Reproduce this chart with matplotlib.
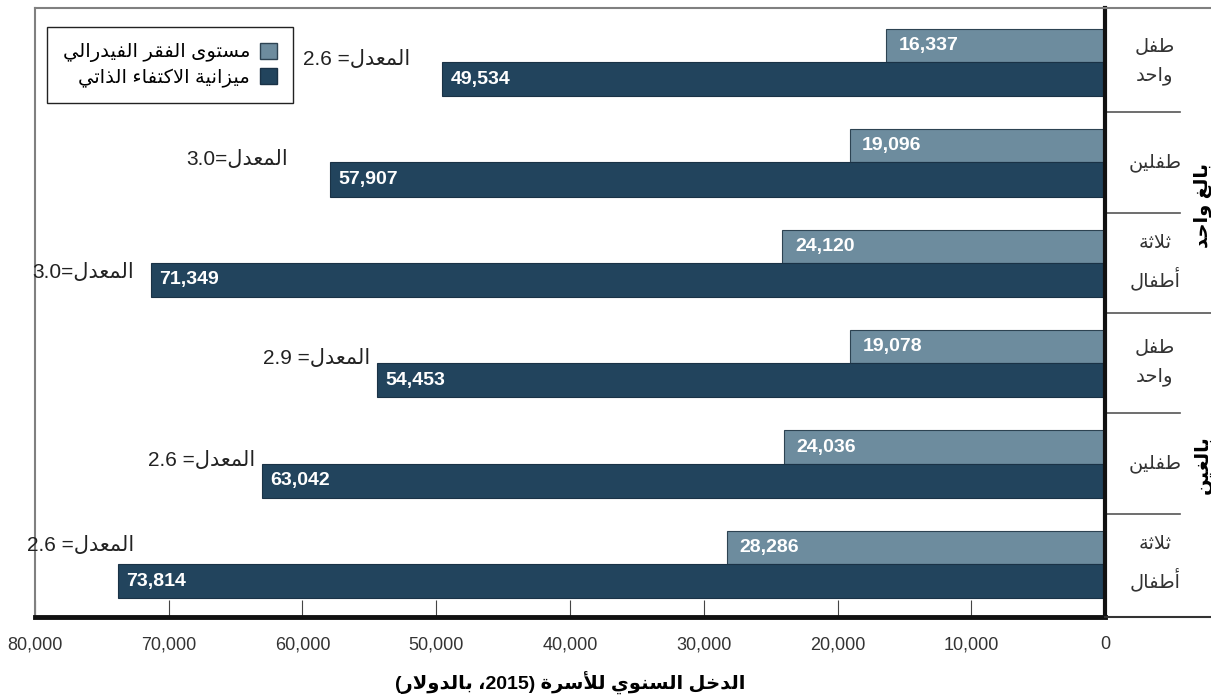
import re
import matplotlib
matplotlib.use("Agg")
import matplotlib.pyplot as plt
from matplotlib.patches import Patch
from matplotlib.lines import Line2D

# data
categories = ["طفل\nواحد", "طفلين", "ثلاثة\nأطفال", "طفل\nواحد", "طفلين", "ثلاثة\nأطفال"]
groups = ["بالغ واحد", "بالغين"]
poverty = [16337, 19096, 24120, 19078, 24036, 28286]
budget = [49534, 57907, 71349, 54453, 63042, 73814]
ratio_text = ["المعدل= 2.6", "المعدل=3.0", "المعدل=3.0", "المعدل= 2.9", "المعدل= 2.6", "المعدل= 2.6"]
series = ["مستوى الفقر الفيدرالي", "ميزانية الاكتفاء الذاتي"]
xlabel = "الدخل السنوي للأسرة (2015، بالدولار)"
xticks = [0, 10000, 20000, 30000, 40000, 50000, 60000, 70000, 80000]

# minimal arabic shaping (presentation forms) + rtl ordering
FORMS = {
    'ء': (0xFE80, None, None, None), 'آ': (0xFE81, 0xFE82, None, None),
    'أ': (0xFE83, 0xFE84, None, None), 'ؤ': (0xFE85, 0xFE86, None, None),
    'إ': (0xFE87, 0xFE88, None, None), 'ئ': (0xFE89, 0xFE8A, 0xFE8B, 0xFE8C),
    'ا': (0xFE8D, 0xFE8E, None, None), 'ب': (0xFE8F, 0xFE90, 0xFE91, 0xFE92),
    'ة': (0xFE93, 0xFE94, None, None), 'ت': (0xFE95, 0xFE96, 0xFE97, 0xFE98),
    'ث': (0xFE99, 0xFE9A, 0xFE9B, 0xFE9C), 'ج': (0xFE9D, 0xFE9E, 0xFE9F, 0xFEA0),
    'ح': (0xFEA1, 0xFEA2, 0xFEA3, 0xFEA4), 'خ': (0xFEA5, 0xFEA6, 0xFEA7, 0xFEA8),
    'د': (0xFEA9, 0xFEAA, None, None), 'ذ': (0xFEAB, 0xFEAC, None, None),
    'ر': (0xFEAD, 0xFEAE, None, None), 'ز': (0xFEAF, 0xFEB0, None, None),
    'س': (0xFEB1, 0xFEB2, 0xFEB3, 0xFEB4), 'ش': (0xFEB5, 0xFEB6, 0xFEB7, 0xFEB8),
    'ص': (0xFEB9, 0xFEBA, 0xFEBB, 0xFEBC), 'ض': (0xFEBD, 0xFEBE, 0xFEBF, 0xFEC0),
    'ط': (0xFEC1, 0xFEC2, 0xFEC3, 0xFEC4), 'ظ': (0xFEC5, 0xFEC6, 0xFEC7, 0xFEC8),
    'ع': (0xFEC9, 0xFECA, 0xFECB, 0xFECC), 'غ': (0xFECD, 0xFECE, 0xFECF, 0xFED0),
    'ف': (0xFED1, 0xFED2, 0xFED3, 0xFED4), 'ق': (0xFED5, 0xFED6, 0xFED7, 0xFED8),
    'ك': (0xFED9, 0xFEDA, 0xFEDB, 0xFEDC), 'ل': (0xFEDD, 0xFEDE, 0xFEDF, 0xFEE0),
    'م': (0xFEE1, 0xFEE2, 0xFEE3, 0xFEE4), 'ن': (0xFEE5, 0xFEE6, 0xFEE7, 0xFEE8),
    'ه': (0xFEE9, 0xFEEA, 0xFEEB, 0xFEEC), 'و': (0xFEED, 0xFEEE, None, None),
    'ى': (0xFEEF, 0xFEF0, None, None), 'ي': (0xFEF1, 0xFEF2, 0xFEF3, 0xFEF4),
}
LAMALEF = {'آ': (0xFEF5, 0xFEF6), 'أ': (0xFEF7, 0xFEF8), 'إ': (0xFEF9, 0xFEFA), 'ا': (0xFEFB, 0xFEFC)}


def shape(s):
    out = []
    last_join = False
    i = 0
    while i < len(s):
        c = s[i]
        if c not in FORMS:
            out.append(c)
            last_join = False
            i += 1
            continue
        if c == 'ل' and i + 1 < len(s) and s[i + 1] in LAMALEF:
            lig = LAMALEF[s[i + 1]]
            out.append(chr(lig[1] if last_join else lig[0]))
            last_join = False
            i += 2
            continue
        f = FORMS[c]
        dual = f[2] is not None
        nxt = s[i + 1] if i + 1 < len(s) else None
        next_ok = dual and nxt in FORMS and nxt != 'ء'
        if last_join and next_ok:
            g = f[3]
        elif last_join:
            g = f[1]
        elif next_ok:
            g = f[2]
        else:
            g = f[0]
        out.append(chr(g))
        last_join = dual
        i += 1
    return "".join(out)


def rtl(text):
    lines = []
    for line in text.split("\n"):
        toks = re.findall(r"[0-9A-Za-z.,]+|.", shape(line))
        toks = [{"(": ")", ")": "("}.get(t, t) for t in toks[::-1]]
        lines.append("".join(toks))
    return "\n".join(lines)


AR = ["Liberation Sans", "DejaVu Sans"]
NARROW = ["Liberation Sans Narrow", "Liberation Sans", "DejaVu Sans"]
light = "#6d8c9e"
dark = "#22445d"

fig = plt.figure(figsize=(12.11, 7.0), dpi=100)
ax = fig.add_axes([35 / 1211, 1 - 617 / 700, 1070 / 1211, 609 / 700])

pos = list(range(len(categories)))
ax.barh([p - 0.165 for p in pos], poverty, height=0.33, color=light,
        edgecolor="#2d4352", linewidth=0.8, zorder=2)
ax.barh([p + 0.17 for p in pos], budget, height=0.34, color=dark,
        edgecolor="#1a3246", linewidth=0.8, zorder=2)

for p, v in zip(pos, poverty):
    ax.annotate(f"{v:,}", (v, p - 0.165), xytext=(9, 0), textcoords="offset points",
                ha="left", va="center", color="white", fontsize=14,
                fontweight="bold", family=NARROW, zorder=3)
for p, v in zip(pos, budget):
    ax.annotate(f"{v:,}", (v, p + 0.17), xytext=(6, 0), textcoords="offset points",
                ha="left", va="center", color="white", fontsize=14,
                fontweight="bold", family=NARROW, zorder=3)

# ratio labels, offsets in pixels (right end from bar start, up from centre)
dx = [32, 42, 17, 6, 7, -17]
dy = [3, 3, -10, 5, 3, 18]
for p, v, t, ox, oy in zip(pos, budget, ratio_text, dx, dy):
    ax.annotate(rtl(t), (v, p), xytext=(-ox * 0.72, oy * 0.72), textcoords="offset points",
                ha="right", va="center", fontsize=15, family=AR, color="#222222")

ax.set_xlim(80000, 0)
ax.set_ylim(5.528, -0.538)
ax.set_yticks([])
ax.set_xticks(xticks)
ax.set_xticklabels([f"{t:,}" for t in xticks], family=NARROW, fontsize=13, color="#333333")
ax.tick_params(axis="x", direction="in", length=12, width=0.8, pad=14, color="#444444")
ax.set_xlabel(rtl(xlabel), fontsize=14, fontweight="bold", family=AR, labelpad=13)

for s in ["left", "top"]:
    ax.spines[s].set_color("#808080")
    ax.spines[s].set_linewidth(1.5)
ax.spines["right"].set_color("#111111")
ax.spines["right"].set_linewidth(3)
ax.spines["bottom"].set_color("#111111")
ax.spines["bottom"].set_linewidth(3.5)

# right side table lines
tr = ax.get_yaxis_transform()
for y, x1 in [(0.5, 1.07), (1.5, 1.07), (2.5, 1.11), (3.5, 1.07), (4.5, 1.07)]:
    ax.plot([1.0, x1], [y, y], transform=tr, color="#555555", lw=1.2, clip_on=False)
fig.add_artist(Line2D([1105 / 1211, 1], [1 - 617 / 700] * 2, color="#333333", lw=1.5))
fig.add_artist(Line2D([1105 / 1211, 1], [1 - 8 / 700] * 2, color="#808080", lw=1.5))

for p, c in zip(pos, categories):
    ax.text(1.0467, p, rtl(c), transform=tr, ha="center", va="center", fontsize=14,
            family=AR, linespacing=1.75, color="#333333")

for y, g in zip([205, 465], groups):
    fig.text(1203 / 1211, 1 - y / 700, rtl(g), rotation=90, ha="center", va="center",
             fontsize=14, fontweight="bold", family=AR)

handles = [Patch(facecolor=light, edgecolor="#2d4352"), Patch(facecolor=dark, edgecolor="#1a3246")]
leg = ax.legend(handles, [rtl(s) for s in series], loc="upper left",
                bbox_to_anchor=(12 / 1070, 590 / 609), borderaxespad=0, markerfirst=False,
                fancybox=False, framealpha=1, edgecolor="#222222", handlelength=0.9,
                handleheight=0.9, handletextpad=0.5, prop={"family": AR, "size": 14},
                borderpad=0.8, labelspacing=0.3)
leg.get_frame().set_linewidth(1.0)

fig.savefig("out.png", dpi=100)
